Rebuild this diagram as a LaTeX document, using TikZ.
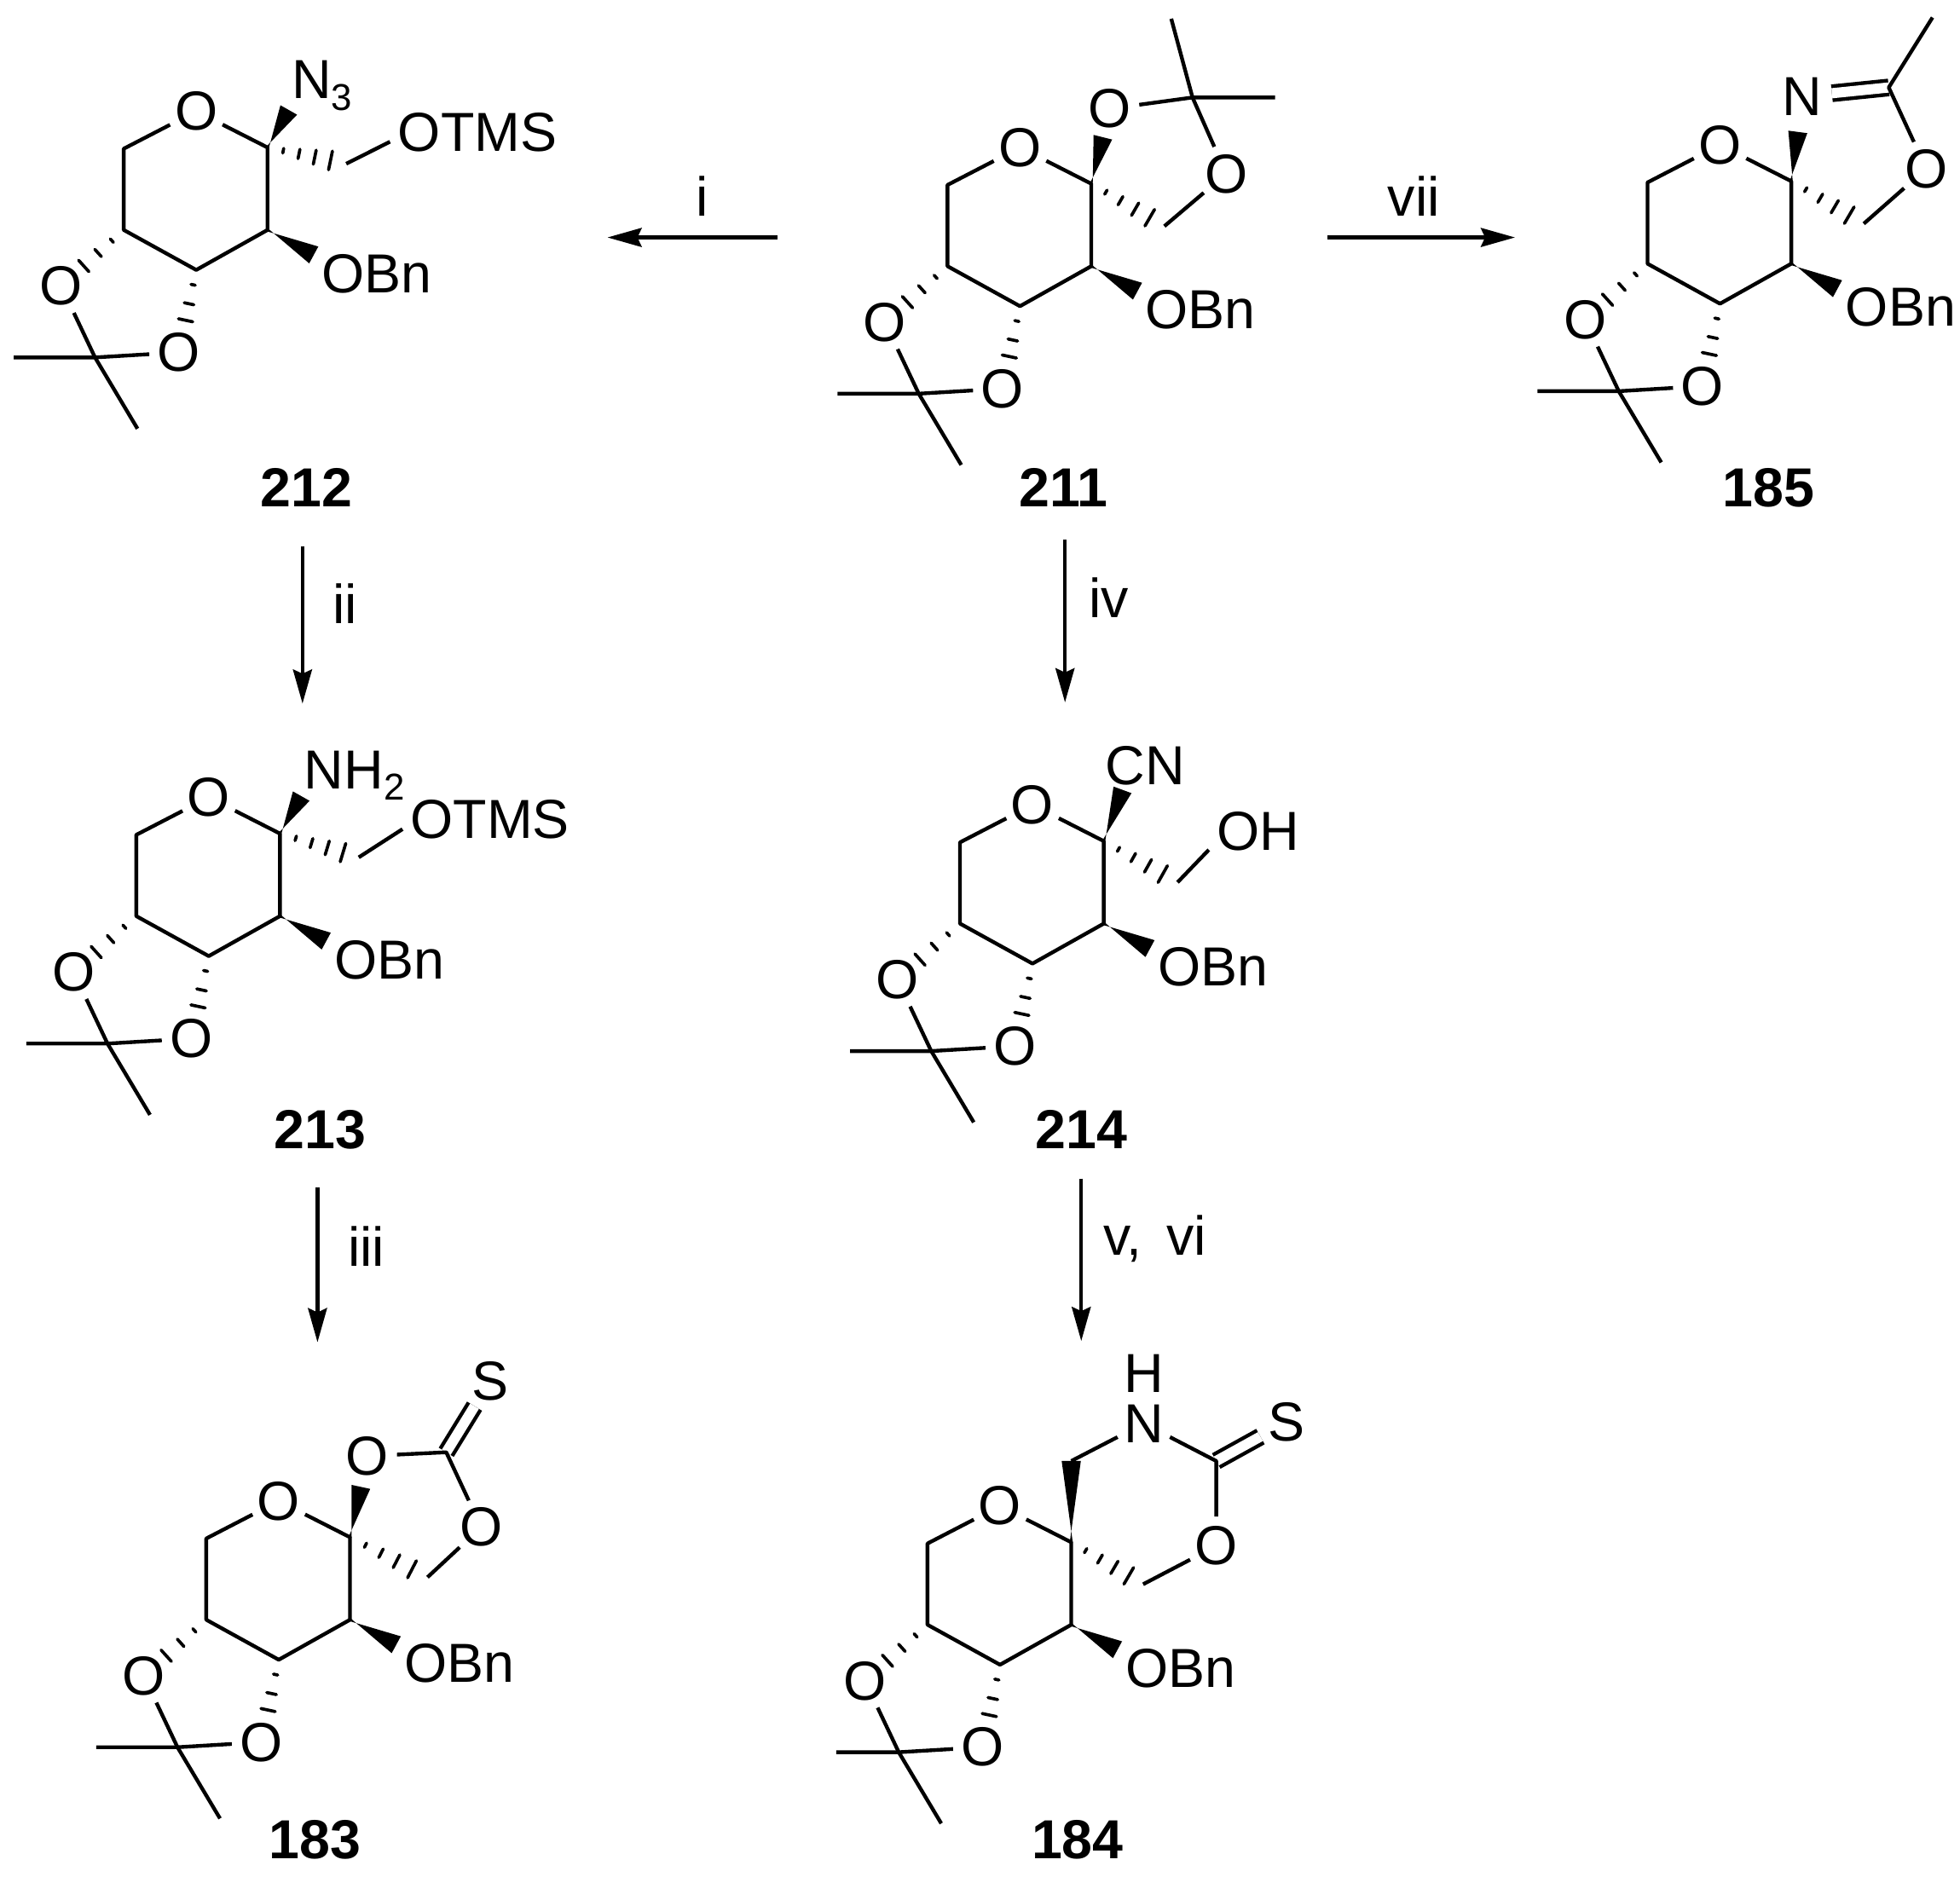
\documentclass[tikz,border=0pt]{standalone}
\usepackage{fontspec}
\setmainfont{Liberation Sans}
\usetikzlibrary{arrows.meta}
\usetikzlibrary{calc,positioning}

\newcommand{\wedgebond}[3]{\fill ($(#1)!.5pt!90:(#2)$) -- ($(#1)!#3!(#2)!3.2pt!90:(#1)$) -- ($(#1)!#3!(#2)!3.2pt!-90:(#1)$) -- ($(#1)!.5pt!-90:(#2)$) -- cycle;}
\newcommand{\hashbond}[3]{\foreach \t in {#3}{\draw[line width=1.05pt,line cap=round] ($(#1)!\t!(#2)!\t*4pt!90:(#1)$) -- ($(#1)!\t!(#2)!\t*4pt!-90:(#1)$);}}
\newcommand{\subnum}[1]{\raisebox{-3.9pt}{\fontsize{12.5}{13}\selectfont #1}}

\tikzset{
    bond/.style={line width=1.25pt,line join=round},
    dblbond/.style={bond,double,double distance=3.4pt},
    atom/.style={circle,inner sep=0pt,minimum size=.68cm,font=\fontsize{18.4}{22}\selectfont},
    group/.style={anchor=base west,inner sep=2.5pt,font=\fontsize{18.4}{22}\selectfont},
    compound/.style={font=\fontsize{18.4}{22}\selectfont\bfseries},
    reagent/.style={inner sep=0pt,font=\fontsize{18.4}{22}\selectfont},
    sugar/.pic={
        \coordinate (-C1) at (0,0);
        \coordinate (-C2) at (0,66);
        \coordinate (-C3) at (-57,98);
        \coordinate (-C4) at (-115,66);
        \coordinate (-C5) at (-115,1);
        \node[atom] (-O) at (-57,-29) {O};
        \node[atom] (-Oa) at (-165,111) {O};
        \node[atom] (-Ob) at (-71,164) {O};
        \coordinate (-Cq) at (-138,168);
        \coordinate (-Ma) at (#1,168);
        \coordinate (-Mb) at (-104,225);
        \coordinate (-Wb) at (37,86);
        \node[group] (-OBn) at (37,116) {OBn};
        \draw[bond] (-O) -- (-C1) -- (-C2) -- (-C3) -- (-C4) -- (-C5) -- (-O);
        \draw[bond] (-Oa) -- (-Cq) -- (-Ob);
        \draw[bond] (-Ma) -- (-Cq) -- (-Mb);
        \wedgebond{-C2}{-Wb}{1}
        \hashbond{-C4}{-Oa}{.19,.41,.64}
        \hashbond{-C3}{-Ob}{.18,.41,.61}
    }
}

\begin{document}
\begin{tikzpicture}[x=.0147cm,y=-.0147cm,>={Stealth[length=11.4pt,width=6.3pt,inset=1.4pt]}]
    \useasboundingbox (0,0) rectangle (1568,1501.2);

    % 211
    \pic (m211) at (873,147) {sugar=-203};
    \node[atom] (m211-Ot) at (888,87) {O};
    \node[atom] (m211-Or) at (981,139) {O};
    \coordinate (m211-Cq) at (954,78);
    \coordinate (m211-Ma) at (937,15);
    \coordinate (m211-Mb) at (1020,78);
    \coordinate (m211-Ch) at (931.5,181);
    \wedgebond{m211-C1}{m211-Ot}{.62}
    \hashbond{m211-C1}{m211-Ch}{.2,.4,.6,.8}
    \draw[bond] (m211-Ot) -- (m211-Cq) -- (m211-Or) -- (m211-Ch);
    \draw[bond] (m211-Ma) -- (m211-Cq) -- (m211-Mb);
    \node[compound] (l211) at (851,390) {211};

    % 212
    \pic (m212) at (214,118) {sugar=-203};
    \node[group] (m212-N) at (227,79) {N\subnum{3}};
    \coordinate (m212-Wn) at (231,88);
    \coordinate (m212-Ch) at (277,131);
    \node[group] (m212-OTMS) at (312,121) {OTMS};
    \wedgebond{m212-C1}{m212-Wn}{1}
    \hashbond{m212-C1}{m212-Ch}{.2,.4,.6,.8}
    \draw[bond] (m212-Ch) -- ($(m212-OTMS.west)!.5!(m212-OTMS.base west)$);
    \node[compound] (l212) at (245,390) {212};

    % 213
    \pic (m213) at (224,667) {sugar=-203};
    \node[group] (m213-N) at (237,631) {NH\subnum{2}};
    \coordinate (m213-Wn) at (241,637);
    \coordinate (m213-Ch) at (287,686);
    \node[group] (m213-OTMS) at (322,671) {OTMS};
    \wedgebond{m213-C1}{m213-Wn}{1}
    \hashbond{m213-C1}{m213-Ch}{.2,.4,.6,.8}
    \draw[bond] (m213-Ch) -- ($(m213-OTMS.west)!.5!(m213-OTMS.base west)$);
    \node[compound] (l213) at (256,904) {213};

    % 214
    \pic (m214) at (883,673) {sugar=-203};
    \node[group] (m214-CN) at (878,628) {CN};
    \coordinate (m214-Wn) at (898,632);
    \coordinate (m214-Ch) at (942,706);
    \node[group] (m214-OH) at (967,680) {OH};
    \wedgebond{m214-C1}{m214-Wn}{1}
    \hashbond{m214-C1}{m214-Ch}{.2,.4,.6,.8}
    \draw[bond] (m214-Ch) -- (m214-OH.base west);
    \node[compound] (l214) at (865,904) {214};

    % 183
    \pic (m183) at (280,1230) {sugar=-203};
    \node[atom] (m183-Ot) at (294,1165) {O};
    \node[atom] (m183-Or) at (385,1222) {O};
    \node[atom] (m183-S) at (392,1105) {S};
    \coordinate (m183-Cs) at (357,1162);
    \coordinate (m183-Ch) at (342,1262);
    \wedgebond{m183-C1}{m183-Ot}{.62}
    \hashbond{m183-C1}{m183-Ch}{.2,.4,.6,.8}
    \draw[dblbond] (m183-Cs) -- (m183-S);
    \draw[bond] (m183-Ot) -- (m183-Cs) -- (m183-Or) -- (m183-Ch);
    \node[compound] (l183) at (252,1472) {183};

    % 184
    \pic (m184) at (857,1234) {sugar=-188};
    \node[atom] (m184-N) at (915,1139) {N};
    \node[reagent] (m184-H) at (915,1099) {H};
    \node[atom] (m184-Or) at (973,1237) {O};
    \node[atom] (m184-S) at (1029,1138) {S};
    \coordinate (m184-Cs) at (973,1169);
    \coordinate (m184-Ct) at (857,1169);
    \coordinate (m184-Ch) at (914.5,1267.6);
    \wedgebond{m184-C1}{m184-Ct}{1}
    \hashbond{m184-C1}{m184-Ch}{.2,.4,.6,.8}
    \draw[dblbond] (m184-Cs) -- (m184-S);
    \draw[bond] (m184-Ct) -- (m184-N) -- (m184-Cs) -- (m184-Or) -- (m184-Ch);
    \node[compound] (l184) at (862,1472) {184};

    % 185
    \pic (m185) at (1433,145) {sugar=-203};
    \node[atom] (m185-N) at (1442,77) {N};
    \node[atom] (m185-Or) at (1541,135) {O};
    \coordinate (m185-Cn) at (1511,70);
    \coordinate (m185-Me) at (1546,14);
    \coordinate (m185-Ch) at (1491,179);
    \wedgebond{m185-C1}{m185-N}{.58}
    \hashbond{m185-C1}{m185-Ch}{.2,.4,.6,.8}
    \draw[dblbond] (m185-N) -- (m185-Cn);
    \draw[bond] (m185-Me) -- (m185-Cn) -- (m185-Or) -- (m185-Ch);
    \node[compound] (l185) at (1415,390) {185};

    % arrows
    \coordinate (a1s) at (622,190);
    \coordinate (a1e) at (486,190);
    \coordinate (a2s) at (1062,190);
    \coordinate (a2e) at (1212,190);
    \coordinate (a3s) at (242,437);
    \coordinate (a3e) at (242,563);
    \coordinate (a4s) at (852,432);
    \coordinate (a4e) at (852,562);
    \coordinate (a5s) at (254,950);
    \coordinate (a5e) at (254,1074);
    \coordinate (a6s) at (865,943);
    \coordinate (a6e) at (865,1073);
    \draw[bond,->] (a1s) -- (a1e);
    \draw[bond,->] (a2s) -- (a2e);
    \draw[bond,->] (a3s) -- (a3e);
    \draw[bond,->] (a4s) -- (a4e);
    \draw[bond,->] (a5s) -- (a5e);
    \draw[bond,->] (a6s) -- (a6e);
    \node[reagent] (ti) at (562,157) {i};
    \node[reagent] (tvii) at (1131,157) {vii};
    \node[reagent] (tii) at (276,483) {ii};
    \node[reagent] (tiv) at (887,478) {iv};
    \node[reagent] (tiii) at (293,997) {iii};
    \node[reagent] (tv) at (924,991) {v,\hspace{.45em}vi};

\end{tikzpicture}
\end{document}
